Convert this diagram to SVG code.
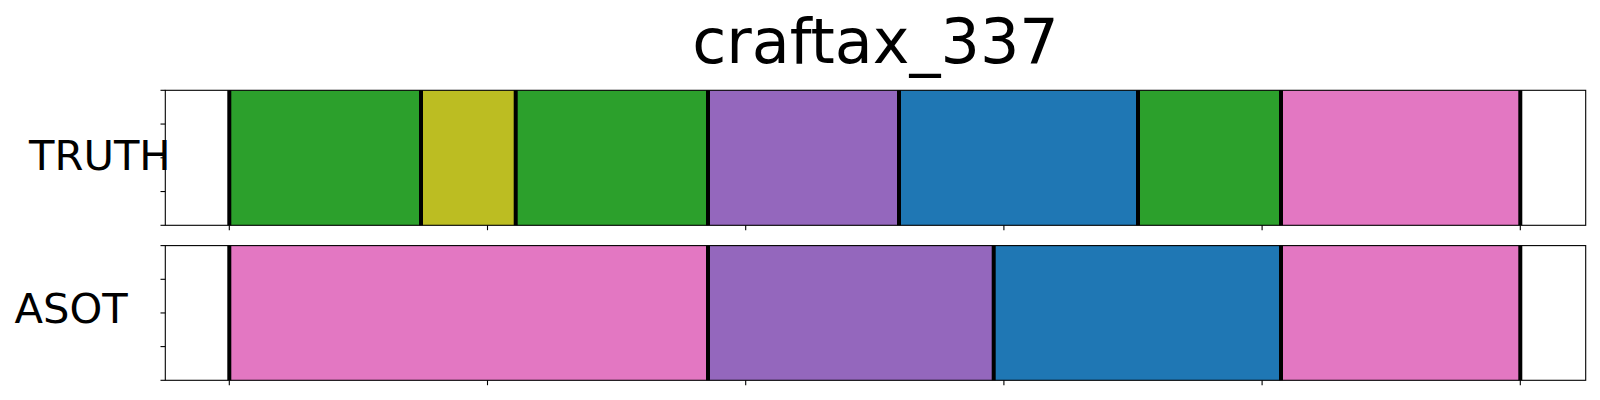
<svg xmlns="http://www.w3.org/2000/svg" width="1600" height="400" viewBox="0 0 1600 400">
<style>
text{font-family:"DejaVu Sans","Liberation Sans",sans-serif;fill:#000}
.title{font-size:62px}
.lab{font-size:41.67px}
.frame{fill:none;stroke:#000;stroke-width:1.1}
.bd{stroke:#000;stroke-width:4}
.tk{stroke:#000;stroke-width:1.1}
.g{fill:#2ca02c}.o{fill:#bcbd22}.p{fill:#9467bd}.b{fill:#1f77b4}.k{fill:#e377c2}
</style>
<rect x="0" y="0" width="1600" height="400" fill="#fff"/>
<text id="title" class="title" x="875.5" y="63" text-anchor="middle">craftax_337</text>

<g id="truth">
<rect class="g" x="229.3" y="90.3" width="191.7" height="135"/>
<rect class="o" x="421" y="90.3" width="94.7" height="135"/>
<rect class="g" x="515.7" y="90.3" width="192.3" height="135"/>
<rect class="p" x="708" y="90.3" width="191" height="135"/>
<rect class="b" x="899" y="90.3" width="239" height="135"/>
<rect class="g" x="1138" y="90.3" width="143" height="135"/>
<rect class="k" x="1281" y="90.3" width="239.3" height="135"/>
<g id="truth-bounds">
<line class="bd" x1="229.3" y1="90.3" x2="229.3" y2="225.3"/>
<line class="bd" x1="421" y1="90.3" x2="421" y2="225.3"/>
<line class="bd" x1="515.7" y1="90.3" x2="515.7" y2="225.3"/>
<line class="bd" x1="708" y1="90.3" x2="708" y2="225.3"/>
<line class="bd" x1="899" y1="90.3" x2="899" y2="225.3"/>
<line class="bd" x1="1138" y1="90.3" x2="1138" y2="225.3"/>
<line class="bd" x1="1281" y1="90.3" x2="1281" y2="225.3"/>
<line class="bd" x1="1520.3" y1="90.3" x2="1520.3" y2="225.3"/>
</g>
<rect class="frame" x="165.3" y="90.3" width="1420.4" height="135"/>
<g id="truth-ticks">
<line class="tk" x1="160.5" y1="90.3" x2="165.3" y2="90.3"/>
<line class="tk" x1="160.5" y1="124.05" x2="165.3" y2="124.05"/>
<line class="tk" x1="160.5" y1="157.8" x2="165.3" y2="157.8"/>
<line class="tk" x1="160.5" y1="191.55" x2="165.3" y2="191.55"/>
<line class="tk" x1="160.5" y1="225.3" x2="165.3" y2="225.3"/>
<line class="tk" x1="229.3" y1="225.3" x2="229.3" y2="230.2"/>
<line class="tk" x1="487.5" y1="225.3" x2="487.5" y2="230.2"/>
<line class="tk" x1="745.7" y1="225.3" x2="745.7" y2="230.2"/>
<line class="tk" x1="1003.9" y1="225.3" x2="1003.9" y2="230.2"/>
<line class="tk" x1="1262.1" y1="225.3" x2="1262.1" y2="230.2"/>
<line class="tk" x1="1520.3" y1="225.3" x2="1520.3" y2="230.2"/>
</g>
<text class="lab" x="29" y="170">TRUTH</text>
</g>

<g id="asot">
<rect class="k" x="229.3" y="245.6" width="478.7" height="134.7"/>
<rect class="p" x="708" y="245.6" width="285.7" height="134.7"/>
<rect class="b" x="993.7" y="245.6" width="287.3" height="134.7"/>
<rect class="k" x="1281" y="245.6" width="239.3" height="134.7"/>
<g id="asot-bounds">
<line class="bd" x1="229.3" y1="245.6" x2="229.3" y2="380.3"/>
<line class="bd" x1="708" y1="245.6" x2="708" y2="380.3"/>
<line class="bd" x1="993.7" y1="245.6" x2="993.7" y2="380.3"/>
<line class="bd" x1="1281" y1="245.6" x2="1281" y2="380.3"/>
<line class="bd" x1="1520.3" y1="245.6" x2="1520.3" y2="380.3"/>
</g>
<rect class="frame" x="165.3" y="245.6" width="1420.4" height="134.7"/>
<g id="asot-ticks">
<line class="tk" x1="160.5" y1="245.6" x2="165.3" y2="245.6"/>
<line class="tk" x1="160.5" y1="279.3" x2="165.3" y2="279.3"/>
<line class="tk" x1="160.5" y1="312.95" x2="165.3" y2="312.95"/>
<line class="tk" x1="160.5" y1="346.6" x2="165.3" y2="346.6"/>
<line class="tk" x1="160.5" y1="380.3" x2="165.3" y2="380.3"/>
<line class="tk" x1="229.3" y1="380.3" x2="229.3" y2="385.2"/>
<line class="tk" x1="487.5" y1="380.3" x2="487.5" y2="385.2"/>
<line class="tk" x1="745.7" y1="380.3" x2="745.7" y2="385.2"/>
<line class="tk" x1="1003.9" y1="380.3" x2="1003.9" y2="385.2"/>
<line class="tk" x1="1262.1" y1="380.3" x2="1262.1" y2="385.2"/>
<line class="tk" x1="1520.3" y1="380.3" x2="1520.3" y2="385.2"/>
</g>
<text class="lab" x="14.5" y="323.3">ASOT</text>
</g>
</svg>
